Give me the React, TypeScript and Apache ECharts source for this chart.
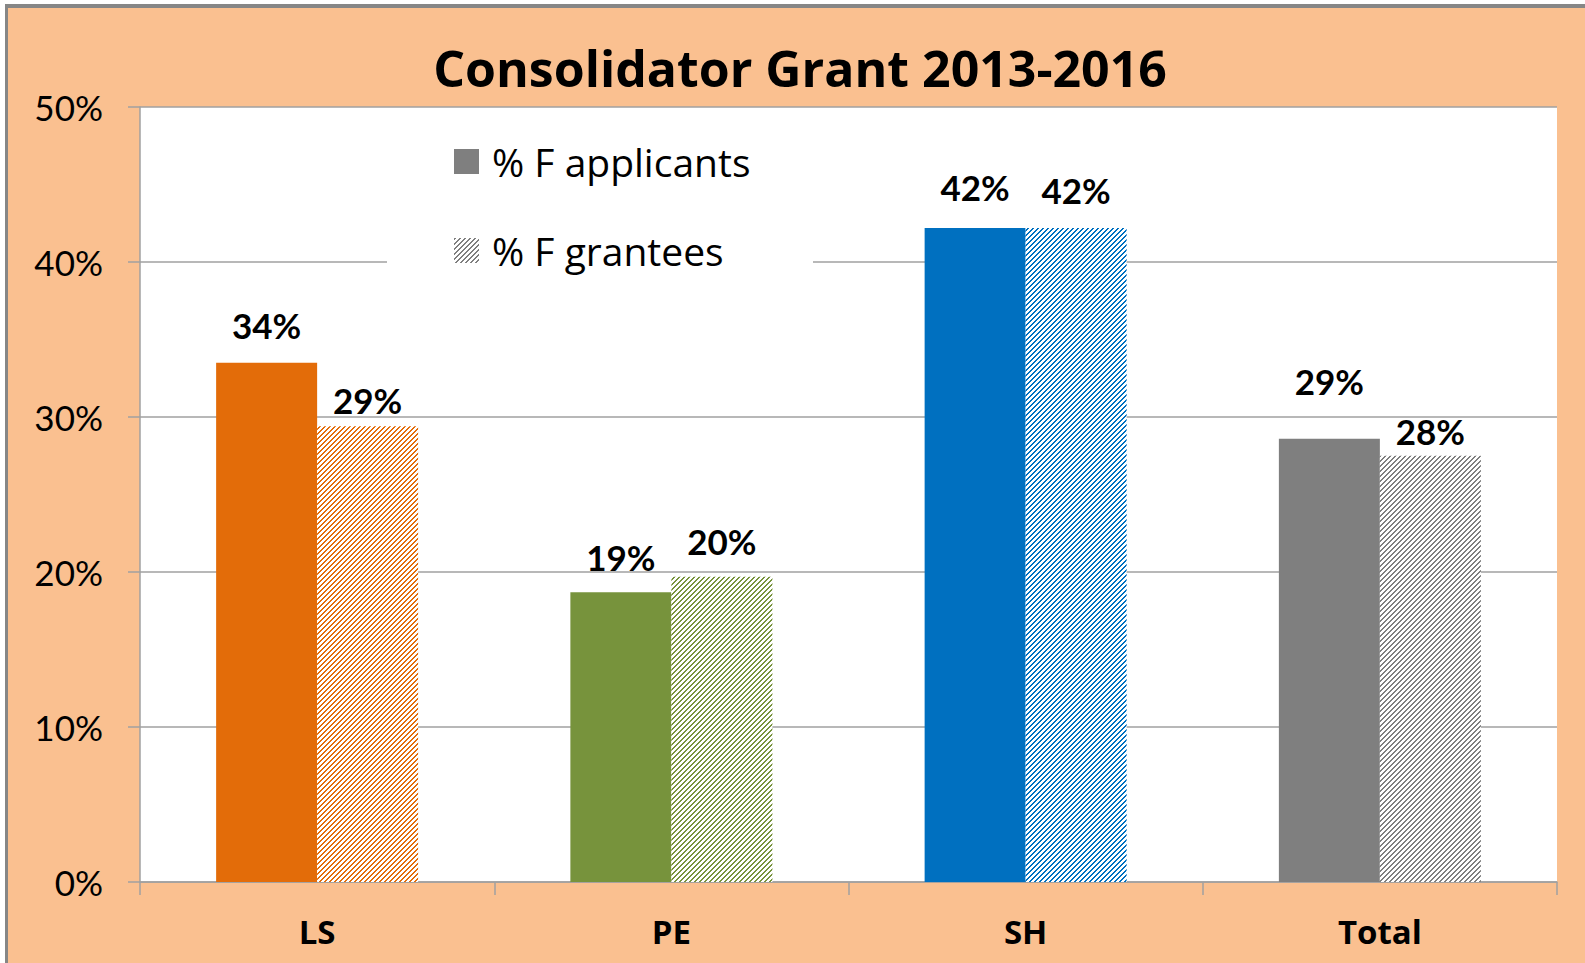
import React, { useEffect, useRef } from "react";
import * as echarts from "echarts";

const categories = ["LS", "PE", "SH", "Total"];
const applicants = [33.5, 18.7, 42.2, 28.6];
const grantees = [29.4, 19.7, 42.2, 27.5];
const categoryColors = ["#E36C09", "#77933C", "#0070C0", "#7F7F7F"];
const seriesNames = ["% F applicants", "% F grantees"];
const yTicks = { min: 0, max: 50, interval: 10 };
const titleText = "Consolidator Grant 2013-2016";
// label distances above the bar tops (px), as placed in the original
const applicantLabelDist = [20, 18, 23, 40];
const granteeLabelDist = [9, 18, 20, 7];

const NUMFONT = "Lato, 'Open Sans', sans-serif";
const TXTFONT = "'Open Sans', Lato, sans-serif";

function makeHatch(color: string) {
  const n = 5;
  const c = document.createElement("canvas");
  c.width = n;
  c.height = n;
  const ctx = c.getContext("2d")!;
  ctx.fillStyle = "#ffffff";
  ctx.fillRect(0, 0, n, n);
  ctx.fillStyle = color;
  for (let x = 0; x < n; x++) {
    for (let y = 0; y < n; y++) {
      if ((x + y) % n < 2) ctx.fillRect(x, y, 1, 1);
    }
  }
  return {
    image: c.toDataURL(),
    repeat: "repeat",
    imageWidth: n,
    imageHeight: n,
  } as any;
}

export default function App() {
  const ref = useRef<HTMLDivElement>(null);
  useEffect(() => {
    if (!ref.current) return;
    const chart = echarts.init(ref.current, undefined, { renderer: "svg" });
    const labelCfg = {
      show: true,
      position: "top",
      fontFamily: NUMFONT,
      fontWeight: "bold",
      fontSize: 35,
      lineHeight: 35,
      color: "#000",
      formatter: (p: any) => Math.round(p.value) + "%",
    };
    const option: any = {
      animation: false,
      backgroundColor: "transparent",
      graphic: [
        {
          type: "rect",
          z: 3,
          shape: { x: 387, y: 130, width: 426, height: 160 },
          style: { fill: "#ffffff" },
        },
        {
          type: "text",
          z: 5,
          x: 800,
          y: 68,
          style: {
            text: titleText,
            fontFamily: TXTFONT,
            fontWeight: "bold",
            fontSize: 50,
            fill: "#000",
            align: "center",
            verticalAlign: "middle",
          },
        },
      ],
      legend: {
        orient: "vertical",
        left: 454,
        top: 142,
        itemWidth: 25,
        itemHeight: 25,
        itemGap: 50,
        icon: "rect",
        padding: 0,
        textStyle: {
          fontFamily: TXTFONT,
          fontSize: 39,
          color: "#000",
          padding: [0, 0, 0, 8],
        },
        data: seriesNames,
        selectedMode: false,
      },
      grid: {
        left: 140,
        top: 107,
        width: 1417,
        height: 775,
        show: true,
        backgroundColor: "#ffffff",
        borderWidth: 0,
      },
      xAxis: {
        type: "category",
        data: categories,
        axisLine: { show: true, lineStyle: { color: "#A0A0A0", width: 1.5 } },
        axisTick: { show: true, length: 13, lineStyle: { color: "#A0A0A0", width: 1.5 } },
        axisLabel: {
          margin: 33,
          fontFamily: TXTFONT,
          fontWeight: "bold",
          fontSize: 33,
          color: "#000",
        },
      },
      yAxis: {
        type: "value",
        min: yTicks.min,
        max: yTicks.max,
        interval: yTicks.interval,
        axisLine: { show: true, lineStyle: { color: "#A0A0A0", width: 1.5 } },
        axisTick: { show: true, length: 12, lineStyle: { color: "#A0A0A0", width: 1.5 } },
        splitLine: { show: true, lineStyle: { color: "#A0A0A0", width: 1.5 } },
        axisLabel: {
          margin: 37,
          fontFamily: NUMFONT,
          fontSize: 35,
          color: "#000",
          formatter: (v: number) => v + "%",
        },
      },
      series: [
        {
          name: seriesNames[0],
          type: "bar",
          barWidth: 101,
          barGap: "0%",
          itemStyle: { color: "#7F7F7F" },
          label: labelCfg,
          data: applicants.map((v, i) => ({
            value: v,
            itemStyle: { color: categoryColors[i] },
            label: { distance: applicantLabelDist[i] },
          })),
        },
        {
          name: seriesNames[1],
          type: "bar",
          barWidth: 101,
          barGap: "0%",
          itemStyle: { color: makeHatch("#7F7F7F") },
          label: labelCfg,
          data: grantees.map((v, i) => ({
            value: v,
            itemStyle: { color: makeHatch(categoryColors[i]) },
            label: { distance: granteeLabelDist[i] },
          })),
        },
      ],
    };
    chart.setOption(option);
    return () => chart.dispose();
  }, []);
  return (
    <div style={{ position: "fixed", left: 0, top: 0, width: 1585, height: 963, background: "#ffffff", overflow: "hidden" }}>
      <div
        style={{
          position: "absolute",
          left: 5,
          top: 4,
          width: 1580,
          height: 959,
          boxSizing: "border-box",
          borderLeft: "3px solid #868686",
          borderTop: "4px solid #868686",
          background: "#FAC090",
        }}
      />
      <div ref={ref} style={{ position: "absolute", left: 0, top: 0, width: 1585, height: 963 }} />
    </div>
  );
}
